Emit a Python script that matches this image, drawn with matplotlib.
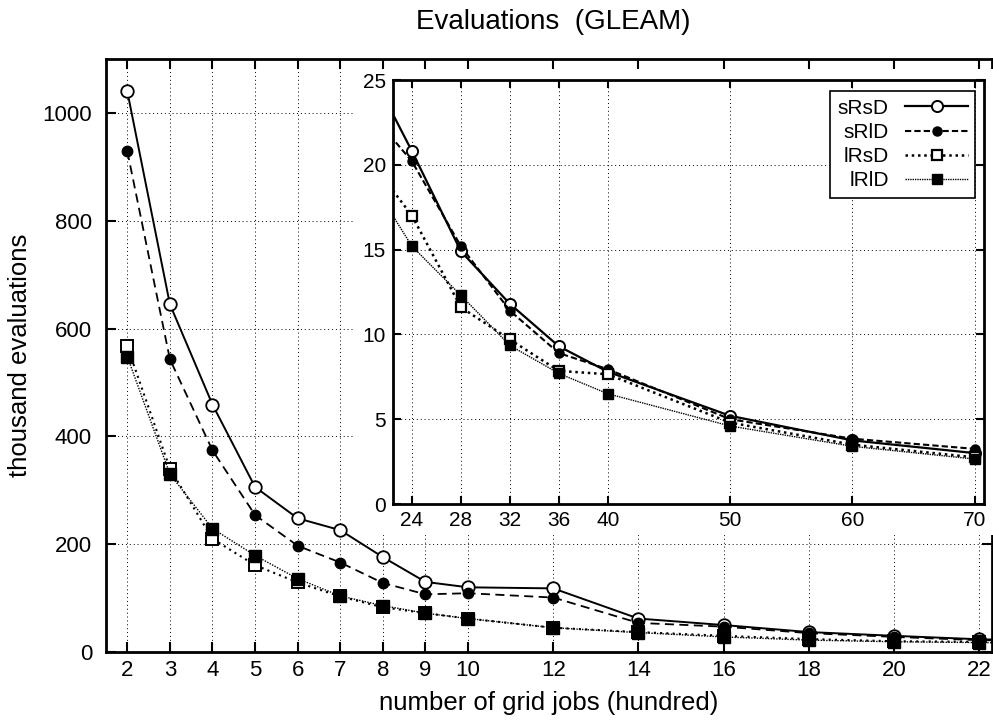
import matplotlib.pyplot as plt
from matplotlib.patches import Rectangle

plt.rcParams['font.family'] = ['Liberation Sans', 'DejaVu Sans']

# number of grid jobs (hundred)
jobs = [2, 3, 4, 5, 6, 7, 8, 9, 10, 12, 14, 16, 18, 20, 22, 24, 28, 32, 36, 40, 50, 60, 70]

# thousand evaluations per strategy
sRsD = [1040, 645, 459, 306, 248, 226, 176, 130, 120, 118, 62, 50, 37, 30, 23.6,
        20.8, 14.9, 11.8, 9.3, 7.8, 5.2, 3.75, 3.0]
sRlD = [929, 543, 374, 254, 197, 166, 128, 107, 109, 101, 54, 47, 35, 28, 21.9,
        20.2, 15.2, 11.4, 8.9, 7.95, 5.0, 3.85, 3.25]
lRsD = [567, 340, 210, 161, 129, 103, 83, 72, 62, 45, 37, 30, 24, 20, 18.9,
        17.0, 11.6, 9.7, 7.85, 7.65, 4.8, 3.5, 2.75]
lRlD = [548, 330, 229, 179, 136, 104, 86, 72, 62, 45, 36, 28, 22, 19, 17.5,
        15.2, 12.3, 9.35, 7.7, 6.5, 4.6, 3.4, 2.65]

names = ['sRsD', 'sRlD', 'lRsD', 'lRlD']
main_ticks = [2, 3, 4, 5, 6, 7, 8, 9, 10, 12, 14, 16, 18, 20, 22]
inset_ticks = [24, 28, 32, 36, 40, 50, 60, 70]

W, H = 993, 722
fig = plt.figure(figsize=(W / 100, H / 100), dpi=100)

# main axes
ax = fig.add_axes([106 / W, 1 - 652 / H, (992 - 106) / W, (652 - 59) / H])

styles = [
    dict(ls='-', lw=1.4, marker='o', mfc='white', mec='black', ms=9, mew=1.3),
    dict(ls=(0, (5, 3)), lw=1.3, marker='o', mfc='black', mec='black', ms=7.5),
    dict(ls=(0, (1, 2)), lw=1.5, marker='s', mfc='white', mec='black', ms=8.5, mew=1.4),
    dict(ls=(0, (1, 1)), lw=1.0, marker='s', mfc='black', mec='black', ms=8.5),
]
series = [sRsD, sRlD, lRsD, lRlD]

for vals, st in zip(series, styles):
    ax.plot(jobs, vals, color='black', **st)

ax.set_xlim(1.5, 22.3)
ax.set_ylim(0, 1100)
ax.set_xticks(main_ticks)
ax.set_yticks(range(0, 1001, 200))
ax.grid(True, color='black', ls=(0, (1, 3)), lw=0.7)
ax.tick_params(direction='in', top=True, right=True, length=7, width=1.5,
               labelsize=16)
ax.tick_params(axis='x', pad=6)
ax.tick_params(axis='y', pad=10)
for sp in ax.spines.values():
    sp.set_linewidth(2)
ax.set_xlabel('number of grid jobs (hundred)', fontsize=18.5)
ax.xaxis.set_label_coords(0.5, -0.065)
ax.set_ylabel('thousand evaluations', fontsize=18.5)
ax.yaxis.set_label_coords(-0.083, 0.5)

fig.text(553 / W, 1 - 22 / H, 'Evaluations  (GLEAM)', fontsize=20,
         ha='center', va='center')

# white area behind the inset and its labels
fig.add_artist(Rectangle((354 / W, 1 - 535 / H), (W - 354) / W, (535 - 69) / H,
                         transform=fig.transFigure, facecolor='white',
                         edgecolor='none', zorder=2))

# inset
ins = fig.add_axes([393 / W, 1 - 504 / H, (984 - 393) / W, (504 - 80) / H])
ins.set_zorder(3)

ins_styles = [
    dict(ls='-', lw=1.6, marker='o', mfc='white', mec='black', ms=8, mew=1.4),
    dict(ls=(0, (3, 1.5)), lw=1.5, marker='o', mfc='black', mec='black', ms=6.5),
    dict(ls=(0, (1, 1.5)), lw=1.8, marker='s', mfc='white', mec='black', ms=7.5, mew=1.6),
    dict(ls=(0, (1, 0.7)), lw=1.0, marker='s', mfc='black', mec='black', ms=7),
]
for vals, st, name in zip(series, ins_styles, names):
    ins.plot(jobs, vals, color='black', label=name, **st)

ins.set_xlim(22.45, 70.75)
ins.set_ylim(0, 25)
ins.set_xticks(inset_ticks)
ins.set_yticks(range(0, 26, 5))
ins.grid(True, color='black', ls=(0, (1, 3)), lw=0.7)
ins.tick_params(direction='in', top=True, right=True, length=6, width=1.5,
                labelsize=15, pad=5)
for sp in ins.spines.values():
    sp.set_linewidth(2)

leg = ins.legend(loc='upper right', bbox_to_anchor=(0.985, 0.973), markerfirst=False,
                 fontsize=15, frameon=True, fancybox=False, edgecolor='black',
                 framealpha=1, handlelength=3.0, borderpad=0.35, labelspacing=0.25,
                 handletextpad=0.8, borderaxespad=0)
leg.get_frame().set_linewidth(1.2)

fig.savefig('out.png', dpi=100)
